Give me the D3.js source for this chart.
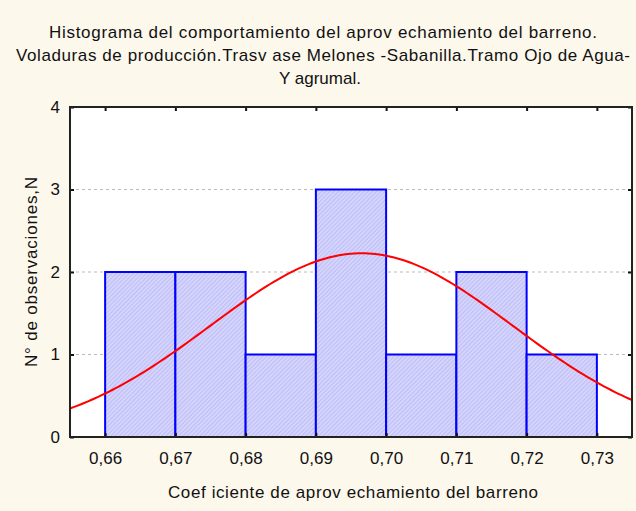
<!DOCTYPE html>
<html>
<head>
<meta charset="utf-8">
<script src="https://cdn.jsdelivr.net/npm/d3@7"></script>
<style>
  body { margin: 0; background: #fdf8ec; }
  svg { display: block; font-family: "Liberation Sans", Arial, sans-serif; }
</style>
</head>
<body>
<div id="chart"></div>
<script>
// histogram bins (lower edge, upper edge) and counts
const binStarts = [0.66, 0.67, 0.68, 0.69, 0.70, 0.71, 0.72];
const binEnds   = [0.67, 0.68, 0.69, 0.70, 0.71, 0.72, 0.73];
const counts    = [2, 2, 1, 3, 1, 2, 1];

const xTicks = [0.66, 0.67, 0.68, 0.69, 0.70, 0.71, 0.72, 0.73];
const yTicks = [0, 1, 2, 3, 4];

// fitted normal curve parameters
const fitMean = 0.6965;
const fitSd = 0.0215;

const titleLines = [
  "Histograma del comportamiento del aprov echamiento del barreno.",
  "Voladuras de producción.Trasv ase Melones -Sabanilla.Tramo Ojo de Agua-",
  "Y agrumal."
];
// widths of the long title lines in the reference, px (last line left natural)
const titleWidths = [548, 614, null];

const W = 636, H = 511;
const margin = { top: 107, right: 4, bottom: 74, left: 70 };
const width = W - margin.left - margin.right;
const height = H - margin.top - margin.bottom;
const fontSize = "17px";

const svg = d3.select("#chart").append("svg")
  .attr("width", W)
  .attr("height", H);

svg.append("rect").attr("width", W).attr("height", H).attr("fill", "#fdf8ec");

// title
svg.append("g").selectAll("text")
  .data(titleLines)
  .join("text")
  .attr("x", (d, i) => i == 2 ? 320 : 323)
  .attr("y", (d, i) => 38 + i * 23)
  .attr("text-anchor", "middle")
  .attr("textLength", (d, i) => titleWidths[i])
  .attr("lengthAdjust", "spacing")
  .style("font-size", fontSize)
  .attr("fill", "#111")
  .text(d => d);

const g = svg.append("g").attr("transform", `translate(${margin.left},${margin.top})`);

const x = d3.scaleLinear().domain([0.655, 0.735]).range([0, width]);
const y = d3.scaleLinear().domain([0, 4]).range([height, 0]);

g.append("rect").attr("width", width).attr("height", height).attr("fill", "#fff");

// dashed grid
g.append("g").selectAll("line")
  .data(yTicks.filter(d => d > 0 && d < 4))
  .join("line")
  .attr("x1", 0).attr("x2", width)
  .attr("y1", d => y(d)).attr("y2", d => y(d))
  .attr("stroke", "#bbb")
  .attr("stroke-dasharray", "3,3");

// hatch pattern for the bars
const defs = svg.append("defs");
const pat = defs.append("pattern")
  .attr("id", "hatch")
  .attr("width", 3).attr("height", 3)
  .attr("patternUnits", "userSpaceOnUse")
  .attr("patternTransform", "rotate(45)");
pat.append("rect").attr("width", 3).attr("height", 3).attr("fill", "#d4d4fc");
pat.append("line").attr("x1", 0).attr("y1", 0).attr("x2", 0).attr("y2", 3)
  .attr("stroke", "#b0b0f2").attr("stroke-width", 1.2);

const bins = binStarts.map((s, i) => ({ x0: s, x1: binEnds[i], n: counts[i] }));

g.append("g").selectAll("rect")
  .data(bins)
  .join("rect")
  .attr("x", d => x(d.x0))
  .attr("y", d => y(d.n))
  .attr("width", d => x(d.x1) - x(d.x0))
  .attr("height", d => y(0) - y(d.n))
  .attr("fill", "url(#hatch)")
  .attr("stroke", "#0000ff")
  .attr("stroke-width", 2);

// normal curve scaled to counts
const nTotal = d3.sum(counts);
const binW = 0.01;
const curveX = d3.range(0.655, 0.7351, 0.0005);
const normal = v => nTotal * binW / (fitSd * Math.sqrt(2 * Math.PI)) *
  Math.exp(-0.5 * ((v - fitMean) / fitSd) ** 2);

g.append("path")
  .datum(curveX)
  .attr("d", d3.line().x(d => x(d)).y(d => y(normal(d))))
  .attr("fill", "none")
  .attr("stroke", "#ff0000")
  .attr("stroke-width", 2);

// axes with inward ticks on all four sides
const styleAxis = sel => {
  sel.select(".domain").remove();
  sel.selectAll(".tick line").attr("stroke", "#111").attr("stroke-width", 2);
  sel.selectAll("text").style("font-size", fontSize).attr("fill", "#111");
};

g.append("g")
  .attr("transform", `translate(0,${height})`)
  .call(d3.axisBottom(x).tickValues(xTicks).tickSizeInner(-4).tickSizeOuter(0)
    .tickPadding(15).tickFormat(d => d3.format(".2f")(d).replace(".", ",")))
  .call(styleAxis);

g.append("g")
  .call(d3.axisTop(x).tickValues(xTicks).tickSizeInner(-4).tickSizeOuter(0).tickFormat(""))
  .call(styleAxis);

g.append("g")
  .call(d3.axisLeft(y).tickValues(yTicks).tickSizeInner(-4).tickSizeOuter(0)
    .tickPadding(10).tickFormat(d3.format("d")))
  .call(styleAxis);

g.append("g")
  .attr("transform", `translate(${width},0)`)
  .call(d3.axisRight(y).tickValues(yTicks).tickSizeInner(-4).tickSizeOuter(0).tickFormat(""))
  .call(styleAxis);

// frame
g.append("rect")
  .attr("width", width).attr("height", height)
  .attr("fill", "none")
  .attr("stroke", "#222")
  .attr("stroke-width", 2);

// axis titles
svg.append("text")
  .attr("x", 353).attr("y", 498)
  .attr("text-anchor", "middle")
  .attr("textLength", 370)
  .attr("lengthAdjust", "spacing")
  .style("font-size", fontSize)
  .attr("fill", "#111")
  .text("Coef iciente de aprov echamiento del barreno");

svg.append("text")
  .attr("transform", "translate(37,272) rotate(-90)")
  .attr("text-anchor", "middle")
  .attr("textLength", 190)
  .attr("lengthAdjust", "spacing")
  .style("font-size", fontSize)
  .attr("fill", "#111")
  .text("N° de observaciones,N");
</script>
</body>
</html>
